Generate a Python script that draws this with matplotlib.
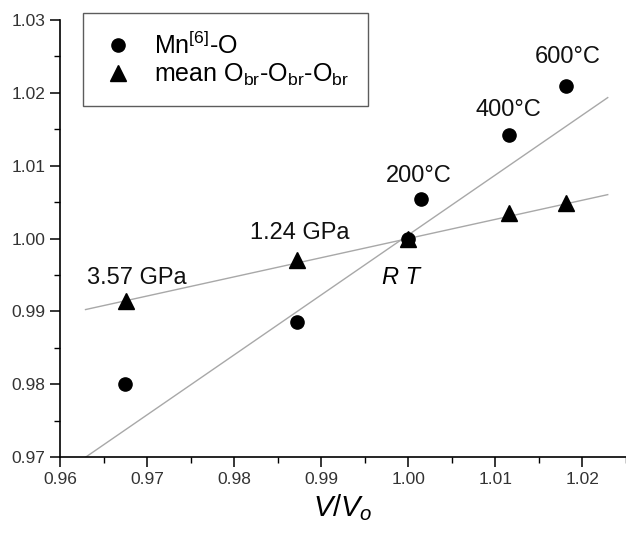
import numpy as np
import matplotlib
matplotlib.use("Agg")
from matplotlib import pyplot as plt
from matplotlib.ticker import MultipleLocator, FormatStrFormatter

plt.rcParams['font.family'] = ['Liberation Sans', 'DejaVu Sans']
plt.rcParams['mathtext.fontset'] = 'custom'
plt.rcParams['mathtext.rm'] = 'Liberation Sans'
plt.rcParams['mathtext.it'] = 'Liberation Sans:italic'

# Mn[6]-O (circles)
mn_x = [0.96744, 0.98717, 1.00000, 1.00146, 1.01157, 1.01816]
mn_y = [0.98000, 0.98856, 1.00000, 1.00541, 1.01420, 1.02098]
# mean Obr-Obr-Obr (triangles)
ob_x = [0.96755, 0.98717, 1.00000, 1.01157, 1.01816]
ob_y = [0.99144, 0.99703, 1.00000, 1.00345, 1.00482]

# fitted lines as drawn in the figure: (slope, value at V/V0 = 1)
mn_fit = (0.823, 1.0005)
ob_fit = (0.263, 1.0000)
fit_range = [0.9629, 1.0229]

labels = ["600°C", "400°C", "200°C", "1.24 GPa", "3.57 GPa"]
label_xy = [(1.0183, 1.0249), (1.0115, 1.0176), (1.0012, 1.0086),
            (0.9875, 1.0008), (0.9688, 0.9946)]

fig = plt.figure(figsize=(6.26, 5.35), dpi=100)
ax = fig.add_axes([0.0963, 0.1458, 0.9037, 0.8168])

fx = np.array(fit_range)
for k, b in [mn_fit, ob_fit]:
    ax.plot(fx, k * (fx - 1.0) + b, color='#a8a8a8', lw=1.0, zorder=1)

ax.plot(mn_x, mn_y, 'o', color='black', ms=9.5, label=r'Mn$^{\mathregular{[6]}}$-O', zorder=3)
ax.plot(ob_x, ob_y, '^', color='black', ms=11,
        label=r'mean O$_{\mathregular{br}}$-O$_{\mathregular{br}}$-O$_{\mathregular{br}}$', zorder=3)

for t, (x, y) in zip(labels, label_xy):
    ax.text(x, y, t, fontsize=17, ha='center', va='center', color='#111111')
ax.text(0.9992, 0.99465, 'R T', fontsize=17, style='italic', ha='center', va='center')

ax.set_xlim(0.96, 1.025)
ax.set_ylim(0.97, 1.03)
ax.xaxis.set_major_locator(MultipleLocator(0.01))
ax.xaxis.set_minor_locator(MultipleLocator(0.005))
ax.yaxis.set_major_locator(MultipleLocator(0.01))
ax.yaxis.set_minor_locator(MultipleLocator(0.005))
ax.xaxis.set_major_formatter(FormatStrFormatter('%.2f'))
ax.yaxis.set_major_formatter(FormatStrFormatter('%.2f'))

for s in ['top', 'right']:
    ax.spines[s].set_visible(False)
for s in ['left', 'bottom']:
    ax.spines[s].set_linewidth(1.2)
ax.tick_params(which='major', direction='out', length=7, width=1.1,
               labelsize=12.5, labelcolor='#333333')
ax.tick_params(which='minor', direction='out', length=4, width=1.0)

ax.set_xlabel(r'$V/V_o$', fontsize=21, labelpad=4)

leg = ax.legend(loc='upper left', bbox_to_anchor=(0.040, 1.016), fontsize=18,
                frameon=True, fancybox=False, edgecolor='#333333',
                borderaxespad=0, handletextpad=0.8, borderpad=0.75,
                labelspacing=0.1, handlelength=1.3)
leg.get_frame().set_linewidth(1.0)

fig.savefig('out.png', dpi=100)
